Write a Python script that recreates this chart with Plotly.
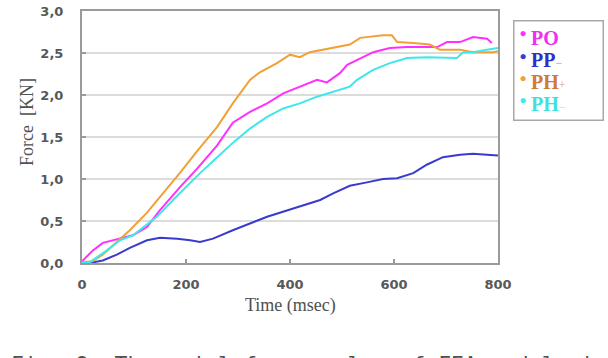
import plotly.graph_objects as go

# ---- data ----
t_po = [0, 21, 40, 60, 79, 98, 125, 150, 188, 221, 260, 290, 323, 356, 387, 419, 452, 471, 496, 510, 529, 560, 592, 625, 656, 683, 702, 727, 752, 779, 788]
f_po = [0.02, 0.15, 0.24, 0.27, 0.3, 0.33, 0.43, 0.63, 0.9, 1.12, 1.4, 1.67, 1.8, 1.9, 2.02, 2.1, 2.18, 2.15, 2.26, 2.36, 2.42, 2.51, 2.56, 2.57, 2.57, 2.57, 2.63, 2.63, 2.69, 2.67, 2.62]

t_pp = [0, 15, 40, 67, 92, 125, 150, 183, 208, 227, 252, 290, 356, 419, 458, 483, 515, 548, 579, 606, 637, 663, 694, 727, 752, 779, 800]
f_pp = [0, 0, 0.03, 0.1, 0.18, 0.27, 0.3, 0.29, 0.27, 0.25, 0.29, 0.39, 0.55, 0.67, 0.75, 0.83, 0.92, 0.96, 1.0, 1.01, 1.07, 1.17, 1.26, 1.29, 1.3, 1.29, 1.28]

t_php = [0, 20, 40, 60, 92, 125, 156, 188, 221, 260, 290, 323, 342, 375, 400, 419, 438, 483, 515, 535, 579, 596, 606, 637, 669, 688, 708, 727, 752, 790, 800]
f_php = [0.01, 0.02, 0.1, 0.21, 0.39, 0.6, 0.83, 1.07, 1.33, 1.62, 1.9, 2.18, 2.27, 2.38, 2.48, 2.45, 2.51, 2.56, 2.6, 2.68, 2.71, 2.71, 2.63, 2.62, 2.6, 2.54, 2.54, 2.54, 2.51, 2.51, 2.52]

t_phm = [0, 15, 48, 73, 98, 117, 144, 188, 227, 260, 290, 323, 356, 387, 419, 452, 483, 515, 529, 560, 592, 625, 663, 708, 721, 733, 752, 779, 800]
f_phm = [0, 0.01, 0.15, 0.27, 0.33, 0.42, 0.55, 0.83, 1.07, 1.26, 1.43, 1.6, 1.74, 1.84, 1.9, 1.98, 2.04, 2.1, 2.18, 2.3, 2.38, 2.44, 2.45, 2.44, 2.44, 2.51, 2.51, 2.54, 2.56]

x_ticks = [0, 200, 400, 600, 800]
y_ticks = [0, 0.5, 1.0, 1.5, 2.0, 2.5, 3.0]
y_ticklabels = ["0,0", "0,5", "1,0", "1,5", "2,0", "2,5", "3,0"]

series_names = ["PO", "PP", "PH", "PH"]
series_suffix = ["", "−", "+", "−"]
line_colors = ["#ff30ff", "#3a3ad0", "#f2a035", "#3ee8ea"]
text_colors = ["#f030f0", "#3030c8", "#d07a35", "#40e0e0"]
suffix_colors = ["#f030f0", "#9090d8", "#e0a070", "#90e8e8"]
times = [t_po, t_pp, t_php, t_phm]
forces = [f_po, f_pp, f_php, f_phm]

fig = go.Figure()
for i in range(4):
    fig.add_trace(go.Scatter(x=times[i], y=forces[i], mode="lines",
                             line=dict(color=line_colors[i], width=2),
                             name=series_names[i] + series_suffix[i],
                             showlegend=False, hoverinfo="skip"))

axis_common = dict(showline=True, linecolor="#9a9a9a", linewidth=2, mirror=True,
                   ticks="inside", ticklen=4, tickcolor="#9a9a9a", tickwidth=1.5,
                   tickfont=dict(family="DejaVu Sans", size=13, color="#585858", weight="bold"),
                   zeroline=False, automargin=False)

fig.update_xaxes(range=[0, 800], tickvals=x_ticks, showgrid=False, ticklabelstandoff=8, **axis_common)
fig.update_yaxes(range=[0, 3], tickvals=y_ticks, ticktext=y_ticklabels, showgrid=True,
                 gridcolor="#dcdcdc", gridwidth=1.5, ticklabelstandoff=14, **axis_common)

fig.add_annotation(text="Force  [KN]", xref="paper", yref="paper", x=-0.132, y=0.56,
                   xanchor="center", yanchor="middle",
                   textangle=-90, showarrow=False,
                   font=dict(family="Liberation Serif", size=18, color="#505050"))
fig.add_annotation(text="Time (msec)", xref="paper", yref="paper", x=0.502, y=-0.167,
                   xanchor="center", yanchor="middle", showarrow=False,
                   font=dict(family="Liberation Serif", size=18, color="#505050"))
fig.add_annotation(text="Fig. 9. The axial force value of FEA models in", xref="paper", yref="paper",
                   x=-0.175, xanchor="left", y=-0.345, yanchor="top", showarrow=False,
                   font=dict(family="DejaVu Sans Mono", size=21.5, color="#505050"))

# legend box built as a text block
legend_lines = []
for i in range(4):
    suf = ""
    if series_suffix[i]:
        suf = f"<span style='font-size:12px;color:{suffix_colors[i]}'>{series_suffix[i]}</span>"
    legend_lines.append(
        f"<span style='color:{line_colors[i]}'><sup>●</sup></span> "
        f"<span style='font-size:20px;color:{text_colors[i]}'><b>{series_names[i]}</b></span>{suf}")
fig.add_annotation(text="<br>".join(legend_lines), xref="paper", yref="paper",
                   x=1.036, xanchor="left", y=0.964, yanchor="top", align="left",
                   showarrow=False, bordercolor="#a8a8a8", borderwidth=1.5, borderpad=5,
                   width=78, bgcolor="white",
                   font=dict(family="Liberation Serif", size=17, color="#333"))

fig.update_layout(
    width=608, height=358,
    margin=dict(l=82, r=110, t=11, b=95),
    paper_bgcolor="white", plot_bgcolor="white",
    showlegend=False,
)

fig.write_html("out.html")
